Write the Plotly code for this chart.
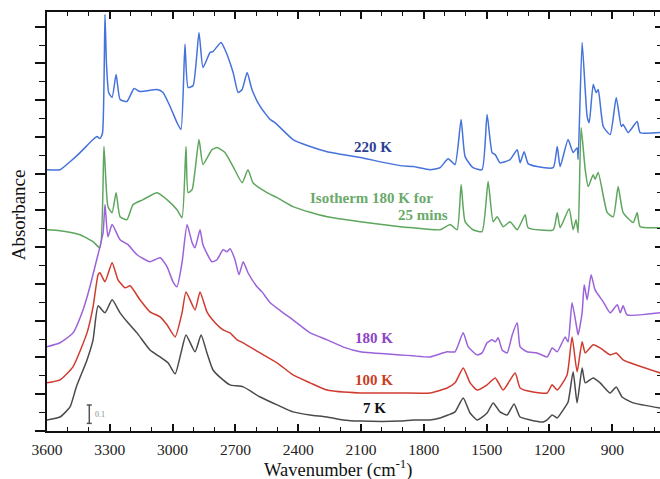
import plotly.graph_objects as go

# ---------------- data (wavenumber cm^-1, absorbance offset units) ----------------
wn_220 = [3600, 3538, 3490, 3442, 3380, 3361, 3347, 3335, 3323, 3316, 3305, 3289, 3270, 3251, 3218, 3184, 3156,
          3074, 3046, 3012, 2979, 2960, 2941, 2926, 2902, 2874, 2855, 2821, 2807, 2769, 2750, 2711, 2687,
          2668, 2644, 2621, 2582, 2534, 2511, 2425, 2343, 2262, 2104, 1913, 1851, 1770, 1722, 1684, 1651, 1622,
          1603, 1565, 1522, 1498, 1474, 1459, 1436, 1388, 1354, 1340, 1321, 1302, 1259, 1182, 1163, 1149,
          1111, 1087, 1068, 1063, 1044, 1020, 1010, 991, 977, 967, 943, 910, 881, 857, 848, 824, 781, 767, 671]
ab_220 = [1.422, 1.422, 1.465, 1.515, 1.586, 1.602, 1.591, 1.620, 2.267, 2.000, 1.840, 1.815, 1.940, 1.804, 1.793, 1.864, 1.847,
          1.858, 1.842, 1.766, 1.678, 1.640, 2.104, 1.869, 1.880, 2.169, 1.978, 2.060, 2.065, 2.114, 2.076, 1.951, 1.842,
          1.858, 1.951, 1.858, 1.766, 1.695, 1.678, 1.586, 1.548, 1.520, 1.488, 1.444, 1.439, 1.422, 1.433, 1.482, 1.450, 1.695,
          1.493, 1.433, 1.422, 1.722, 1.515, 1.504, 1.460, 1.477, 1.531, 1.460, 1.520, 1.455, 1.439, 1.433, 1.548, 1.439,
          1.586, 1.515, 1.542, 1.477, 2.114, 1.711, 1.678, 1.886, 1.842, 1.858, 1.657, 1.613, 1.815, 1.657, 1.668, 1.624, 1.684, 1.624, 1.624]

wn_iso = [3600, 3538, 3442, 3380, 3347, 3328, 3309, 3289, 3270, 3251, 3218, 3189, 3141, 3074, 3027, 2979,
          2955, 2936, 2926, 2907, 2874, 2855, 2812, 2788, 2769, 2750, 2711, 2668, 2640, 2616, 2549, 2501,
          2425, 2343, 2262, 2104, 1913, 1851, 1722, 1674, 1641, 1622, 1603, 1565, 1522, 1493, 1469, 1450, 1421,
          1388, 1354, 1316, 1302, 1182, 1163, 1149, 1106, 1087, 1073, 1063, 1049, 1029, 1015, 991, 982,
          967, 924, 895, 872, 848, 800, 781, 767, 671]
ab_iso = [1.095, 1.090, 1.068, 1.030, 0.997, 1.548, 1.221, 1.188, 1.297, 1.166, 1.150, 1.232, 1.259, 1.297, 1.259, 1.204,
          1.161, 1.548, 1.297, 1.313, 1.586, 1.450, 1.531, 1.542, 1.531, 1.515, 1.439, 1.351, 1.422, 1.351, 1.297, 1.270,
          1.221, 1.190, 1.166, 1.139, 1.112, 1.106, 1.095, 1.123, 1.095, 1.341, 1.139, 1.095, 1.085, 1.357, 1.139, 1.166, 1.112,
          1.139, 1.095, 1.177, 1.106, 1.095, 1.188, 1.106, 1.210, 1.095, 1.150, 1.079, 1.651, 1.420, 1.330, 1.395, 1.370,
          1.406, 1.188, 1.166, 1.330, 1.188, 1.134, 1.188, 1.112, 1.106]

wn_180 = [3600, 3538, 3476, 3428, 3395, 3371, 3347, 3332, 3323, 3309, 3289, 3251, 3213, 3170, 3108, 3060,
          3027, 2998, 2979, 2955, 2931, 2907, 2893, 2869, 2855, 2812, 2788, 2759, 2740, 2726, 2702, 2683,
          2663, 2640, 2597, 2573, 2534, 2480, 2425, 2343, 2262, 2180, 2104, 1913, 1851, 1770, 1689, 1651, 1612, 1588,
          1545, 1522, 1498, 1474, 1459, 1445, 1426, 1402, 1378, 1354, 1340, 1307, 1259, 1211, 1187, 1163,
          1125, 1111, 1092, 1068, 1063, 1044, 1034, 1020, 1001, 982, 943, 910, 876, 862, 848, 829, 671]
ab_180 = [0.458, 0.480, 0.534, 0.659, 0.785, 0.894, 1.003, 1.079, 1.232, 1.057, 1.123, 1.041, 1.014, 0.959, 0.921, 0.943,
          0.894, 0.812, 0.785, 0.916, 1.123, 1.025, 0.997, 1.095, 1.014, 0.921, 0.932, 0.986, 0.976, 0.992, 0.932, 0.850,
          0.921, 0.861, 0.785, 0.757, 0.698, 0.650, 0.605, 0.534, 0.496, 0.455, 0.431, 0.414, 0.409, 0.403, 0.431, 0.431, 0.534, 0.458,
          0.414, 0.425, 0.480, 0.496, 0.485, 0.507, 0.441, 0.425, 0.523, 0.589, 0.458, 0.431, 0.425, 0.403, 0.452, 0.431,
          0.512, 0.485, 0.698, 0.550, 0.523, 0.643, 0.796, 0.714, 0.850, 0.768, 0.703, 0.643, 0.687, 0.643, 0.681, 0.632, 0.643]

wn_100 = [3600, 3538, 3476, 3409, 3380, 3356, 3347, 3323, 3289, 3261, 3227, 3203, 3156, 3108, 3060, 3027,
          2988, 2955, 2936, 2893, 2869, 2836, 2797, 2759, 2726, 2692, 2663, 2582, 2501, 2425, 2343, 2262,
          2104, 1913, 1770, 1689, 1651, 1612, 1579, 1545, 1498, 1459, 1421, 1364, 1340, 1278, 1211, 1187,
          1163, 1116, 1092, 1068, 1044, 1029, 991, 958, 910, 881, 848, 671]
ab_100 = [0.262, 0.278, 0.349, 0.534, 0.676, 0.850, 0.861, 0.812, 0.916, 0.823, 0.779, 0.790, 0.714, 0.648, 0.621, 0.578,
          0.512, 0.643, 0.757, 0.659, 0.757, 0.648, 0.589, 0.550, 0.534, 0.496, 0.480, 0.425, 0.371, 0.305, 0.262, 0.223,
          0.207, 0.207, 0.207, 0.234, 0.262, 0.343, 0.262, 0.223, 0.251, 0.289, 0.223, 0.316, 0.234, 0.212, 0.207, 0.251,
          0.223, 0.305, 0.512, 0.322, 0.485, 0.425, 0.469, 0.452, 0.414, 0.425, 0.387, 0.316]

wn_7 = [3600, 3538, 3490, 3460, 3409, 3380, 3356, 3323, 3289, 3251, 3213, 3170, 3108, 3060, 3022, 2988,
        2960, 2936, 2893, 2864, 2836, 2807, 2759, 2726, 2663, 2582, 2501, 2425, 2343, 2262, 2186, 2104,
        1913, 1851, 1770, 1722, 1684, 1651, 1612, 1579, 1545, 1498, 1469, 1436, 1402, 1369, 1340, 1292,
        1230, 1211, 1187, 1163, 1135, 1111, 1087, 1068, 1044, 1029, 991, 958, 910, 881, 853, 800, 671]
ab_7 = [0.060, 0.076, 0.131, 0.240, 0.387, 0.496, 0.681, 0.643, 0.714, 0.643, 0.589, 0.534, 0.441, 0.403, 0.371, 0.311,
        0.425, 0.523, 0.431, 0.523, 0.425, 0.332, 0.278, 0.251, 0.240, 0.185, 0.142, 0.104, 0.087, 0.076, 0.060, 0.054,
        0.054, 0.060, 0.060, 0.071, 0.087, 0.104, 0.180, 0.098, 0.060, 0.098, 0.153, 0.104, 0.087, 0.147, 0.076, 0.060,
        0.049, 0.060, 0.087, 0.071, 0.114, 0.158, 0.322, 0.153, 0.343, 0.262, 0.289, 0.262, 0.207, 0.240, 0.185, 0.153, 0.125]

x_ticks = [3600, 3300, 3000, 2700, 2400, 2100, 1800, 1500, 1200, 900]
x_range = [3600, 672]
y_range = [0, 2.28]

series = [
    ("220 K", wn_220, ab_220, "#4672dc"),
    ("Isotherm 180 K for 25 mins", wn_iso, ab_iso, "#5ea65e"),
    ("180 K", wn_180, ab_180, "#9c62da"),
    ("100 K", wn_100, ab_100, "#d03b30"),
    ("7 K", wn_7, ab_7, "#4a4a4a"),
]

labels = [
    ("<b>220 K</b>", 2042, 1.548, "#2d3f94"),
    ("<b>Isotherm 180 K for</b>", 2050, 1.270, "#6aaa6a"),
    ("<b>25 mins</b>", 1804, 1.177, "#6aaa6a"),
    ("<b>180 K</b>", 2038, 0.507, "#8e44c4"),
    ("<b>100 K</b>", 2038, 0.278, "#c8401f"),
    ("<b>7 K</b>", 2036, 0.125, "#111111"),
]

SERIF = "Liberation Serif, Times New Roman, serif"

fig = go.Figure()
for name, x, y, c in series:
    fig.add_trace(go.Scatter(x=x, y=y, mode="lines", name=name,
                             line=dict(color=c, width=1.5, shape="spline", smoothing=0.5),
                             showlegend=False))

# invisible trace to anchor the right-hand axis
fig.add_trace(go.Scatter(x=[x_range[0]], y=[y_range[0]], yaxis="y2", mode="lines",
                         line=dict(width=0), showlegend=False, hoverinfo="skip"))

annotations = []
for txt, x, y, c in labels:
    annotations.append(dict(text=txt, x=x, y=y, xref="x", yref="y", showarrow=False,
                            font=dict(family=SERIF, size=15, color=c), xanchor="center", yanchor="middle"))

# axis titles
annotations.append(dict(text="Wavenumber (cm<sup>-1</sup>)", x=0.476, y=-0.09, xref="paper", yref="paper",
                        showarrow=False, font=dict(family=SERIF, size=18.5, color="#111"),
                        xanchor="center", yanchor="middle"))
annotations.append(dict(text="Absorbance", x=-0.0465, y=0.516, xref="paper", yref="paper",
                        showarrow=False, textangle=-90, font=dict(family=SERIF, size=19, color="#111"),
                        xanchor="center", yanchor="middle"))

# scale bar (0.1 absorbance)
sb_x, sb_y0, sb_y1 = 3398, 0.0415, 0.1415
shapes = [
    dict(type="line", x0=sb_x, x1=sb_x, y0=sb_y0, y1=sb_y1, xref="x", yref="y", line=dict(color="#555", width=1.5)),
    dict(type="line", x0=sb_x - 12, x1=sb_x + 12, y0=sb_y0, y1=sb_y0, xref="x", yref="y", line=dict(color="#555", width=1.5)),
    dict(type="line", x0=sb_x - 12, x1=sb_x + 12, y0=sb_y1, y1=sb_y1, xref="x", yref="y", line=dict(color="#555", width=1.5)),
]
annotations.append(dict(text="0.1", x=sb_x - 18, y=(sb_y0 + sb_y1) / 2, xref="x", yref="y", showarrow=False,
                        font=dict(family=SERIF, size=8, color="#888"), xanchor="left", yanchor="middle"))

fig.update_layout(
    width=660, height=479,
    margin=dict(l=47, r=0, t=12, b=48),
    paper_bgcolor="white", plot_bgcolor="white",
    xaxis=dict(range=x_range, tickvals=x_ticks, ticks="inside", ticklen=7, tickwidth=1.5,
               tickcolor="#111", showline=True, linecolor="#111", linewidth=1.5, mirror="ticks",
               showgrid=False, zeroline=False, ticklabelstandoff=4,
               tickfont=dict(family=SERIF, size=15.5, color="#222"),
               minor=dict(dtick=100, tick0=3600, ticks="inside", ticklen=4, tickwidth=1.2, tickcolor="#111", showgrid=False)),
    yaxis=dict(range=y_range, dtick=0.2, tick0=0, ticks="outside", ticklen=10, tickwidth=1.5, tickcolor="#111",
               showline=True, linecolor="#111", linewidth=1.5, showgrid=False, zeroline=False,
               showticklabels=False,
               minor=dict(dtick=0.1, tick0=0, ticks="outside", ticklen=6, tickwidth=1.2, tickcolor="#111", showgrid=False)),
    yaxis2=dict(range=y_range, overlaying="y", side="right", dtick=0.2, tick0=0, ticks="inside", ticklen=5,
                tickwidth=1.5, tickcolor="#111", showline=True, linecolor="#111", linewidth=1.5,
                showgrid=False, zeroline=False, showticklabels=False,
                minor=dict(dtick=0.1, tick0=0, ticks="inside", ticklen=3, tickwidth=1.2, tickcolor="#111", showgrid=False)),
    annotations=annotations,
    shapes=shapes,
)

fig.write_html("out.html")
